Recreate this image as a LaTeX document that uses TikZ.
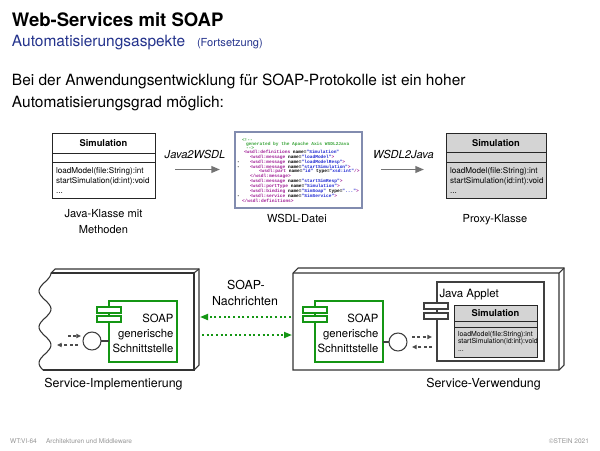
\documentclass[tikz,border=0pt]{standalone}
\usepackage{fontspec}
\setmainfont{TeX Gyre Heros}
\newfontfamily\codefont{Liberation Mono}
\usetikzlibrary{arrows.meta}
\definecolor{slideblue}{RGB}{35,50,140}
\definecolor{compgreen}{RGB}{20,150,20}
\definecolor{arrowgray}{RGB}{115,115,115}
\definecolor{classgray}{RGB}{212,212,212}
\definecolor{footgray}{RGB}{150,150,150}
\definecolor{wsdlframe}{RGB}{130,140,175}
\definecolor{xmltag}{RGB}{160,30,150}
\definecolor{xmlval}{RGB}{30,40,210}
\definecolor{xmlcom}{RGB}{60,165,60}
\newcommand{\fsz}[2]{\fontsize{#1pt}{#2pt}\selectfont}
\newcommand{\cf}{\codefont\bfseries\fontsize{3.4pt}{3.6pt}\selectfont}
\newcommand{\xtg}[1]{\textcolor{xmltag}{#1}}
\newcommand{\xvl}[1]{\textcolor{xmlval}{#1}}
\newcommand{\xcm}[1]{\textcolor{xmlcom}{#1}}
\begin{document}
\begin{tikzpicture}[x=0.75pt,y=-0.75pt,
  every node/.style={inner sep=0pt, outer sep=0pt},
  classline/.style={draw=black!85, line width=0.7pt},
  bigarrow/.style={draw=arrowgray, line width=1.4pt, -{Triangle[length=6.5pt,width=5pt]}},
  dasharrow/.style={draw=black!70, line width=0.8pt, dash pattern=on 2.2pt off 1.8pt, -{Triangle[length=3.5pt,width=3.2pt]}},
  greenarrow/.style={draw=compgreen, line width=1.3pt, dash pattern=on 1.6pt off 1.9pt, -{Triangle[length=6pt,width=4.5pt]}},
  comp/.style={draw=compgreen, line width=1.2pt, fill=white},
  appletline/.style={draw=black!75, line width=0.8pt, fill=white},
  nodeline/.style={draw=black!80, line width=0.8pt},
  lolli/.style={circle, draw=black!75, line width=0.8pt, fill=white, minimum size=13.5pt},
  codeline/.style={anchor=base west},
]
\path[use as bounding box, fill=white] (0,0) rectangle (600,450);

% ---------- header ----------
\node[anchor=base west] (title) at (12,26) {\fsz{13.9}{16}\bfseries Web-Services mit SOAP};
\node[anchor=base west, text=slideblue] (sub) at (12,46) {\fsz{11.6}{14}Automatisierungsaspekte};
\node[anchor=base west, text=slideblue] (fort) at (197,46) {\fsz{8.3}{10}(Fortsetzung)};
\node[anchor=base west] (body1) at (12,85) {\fsz{11.6}{14}Bei der Anwendungsentwicklung für SOAP-Protokolle ist ein hoher};
\node[anchor=base west] (body2) at (12,107) {\fsz{11.6}{14}Automatisierungsgrad möglich:};

% ---------- Java class ----------
\draw[classline, fill=white] (52,133) rectangle (155,198);
\draw[classline] (52,153) -- (155,153) (52,162) -- (155,162);
\node (jname) at (103.5,143.5) {\fsz{7}{8}\bfseries Simulation};
\node[anchor=base west] (jm1) at (56,173) {\fsz{6.1}{7}loadModel(file:String):int};
\node[anchor=base west] (jm2) at (56,183.5) {\fsz{6.1}{7}startSimulation(id:int):void};
\node[anchor=base west] (jm3) at (56,193) {\fsz{6.1}{7}...};
\node[anchor=base] (jcap1) at (103.5,217) {\fsz{8.3}{10}Java-Klasse mit};
\node[anchor=base] (jcap2) at (103.5,233) {\fsz{8.3}{10}Methoden};

% ---------- arrows top ----------
\coordinate (a1s) at (175,169.5); \coordinate (a1e) at (220,169.5);
\draw[bigarrow] (a1s) -- (a1e);
\node[anchor=base] (j2w) at (195,158) {\fsz{8.3}{10}\itshape Java2WSDL};
\coordinate (a2s) at (381,169.5); \coordinate (a2e) at (424,169.5);
\draw[bigarrow] (a2s) -- (a2e);
\node[anchor=base] (w2j) at (403.5,158) {\fsz{8.3}{10}\itshape WSDL2Java};

% ---------- WSDL file ----------
\node[draw=wsdlframe, line width=0.8pt, fill=white, minimum width=95.25pt, minimum height=57pt] (wsdl) at (298.5,170) {};
\node[codeline] (c1) at (242,141) {\cf\xcm{<!-{}-}};
\node[codeline] (c2) at (246,145) {\cf\xcm{generated by the Apache Axis WSDL2Java}};
\node[codeline] (c3) at (246,149) {\cf\xcm{-{}->}};
\node[codeline] (c4) at (244,153.5) {\cf\xtg{<wsdl:definitions} name=\xvl{"Simulation"}};
\node[codeline] (c5) at (250,158.35) {\cf\xtg{<wsdl:message} name=\xvl{"loadModel"}\xtg{>}};
\node[codeline] (c6) at (250,163.2) {\cf\xtg{<wsdl:message} name=\xvl{"loadModelResp"}\xtg{>}};
\node[codeline] (c7) at (250,168.05) {\cf\xtg{<wsdl:message} name=\xvl{"startSimulation"}\xtg{>}};
\node[codeline] (c8) at (259,172.9) {\cf\xtg{<wsdl:part} name=\xvl{"id"} type=\xvl{"xsd:int"}\xtg{/>}};
\node[codeline] (c9) at (250,177.75) {\cf\xtg{</wsdl:message>}};
\node[codeline] (c10) at (250,182.6) {\cf\xtg{<wsdl:message} name=\xvl{"startSimResp"}\xtg{>}};
\node[codeline] (c11) at (250,187.45) {\cf\xtg{<wsdl:portType} name=\xvl{"Simulation"}\xtg{>}};
\node[codeline] (c12) at (250,192.3) {\cf\xtg{<wsdl:binding} name=\xvl{"SimSoap"} type=\xvl{"..."}\xtg{>}};
\node[codeline] (c13) at (250,197.15) {\cf\xtg{<wsdl:service} name=\xvl{"SimService"}\xtg{>}};
\node[codeline] (c14) at (242,202) {\cf\xtg{</wsdl:definitions>}};
\node[codeline] (m6) at (237,163.2) {\cf -};
\node[codeline] (m7) at (237,168.05) {\cf -};
\node[codeline] (m13) at (237,197.15) {\cf -};
\node[anchor=base] (wcap) at (297,222) {\fsz{8.3}{10}WSDL-Datei};

% ---------- Proxy class ----------
\filldraw[classline, fill=classgray] (446,133) rectangle (546,198);
\draw[classline] (446,152) -- (546,152) (446,162) -- (546,162);
\node (pname) at (496,143) {\fsz{7}{8}\bfseries Simulation};
\node[anchor=base west] (pm1) at (450,173) {\fsz{6.1}{7}loadModel(file:String):int};
\node[anchor=base west] (pm2) at (450,183.5) {\fsz{6.1}{7}startSimulation(id:int):void};
\node[anchor=base west] (pm3) at (450,193) {\fsz{6.1}{7}...};
\node[anchor=base] (pcap) at (495,222) {\fsz{8.3}{10}Proxy-Klasse};

% ---------- left deployment node ----------
\draw[nodeline] (51,273) -- (55,269) -- (199,269) -- (199,365) -- (194,370);
\draw[nodeline] (194,273) -- (199,269);
\draw[nodeline] (51,273) -- (194,273) -- (194,370) -- (42.9,370);
\draw[nodeline] plot[smooth, samples=50, domain=273:370] ({45+6*cos((\x-273)*10)},\x);

\node[comp, rectangle, minimum width=51pt, minimum height=45.75pt] (compL) at (143,331.5) {};
\draw[comp] (97,307) rectangle (121,313);
\draw[comp] (97,316) rectangle (121,322);
\node[anchor=base east] (tl1) at (173.5,322) {\fsz{8.5}{10}SOAP};
\node[anchor=base east] (tl2) at (173.5,337.5) {\fsz{8.5}{10}generische};
\node[anchor=base east] (tl3) at (173.5,352) {\fsz{8.5}{10}Schnittstelle};
\node[lolli] (lolL) at (92,341) {};
\draw[draw=black!75, line width=0.8pt] (lolL.east) -- (lolL.east -| compL.west);
\coordinate (dl1s) at (68,336); \coordinate (dl1e) at (81,336);
\draw[dasharrow] (dl1s) -- (dl1e);
\coordinate (dl2s) at (78,345); \coordinate (dl2e) at (57,345);
\draw[dasharrow] (dl2s) -- (dl2e);
\node[anchor=base] (implcap) at (113.5,387.5) {\fsz{9.3}{11}Service-Implementierung};

% ---------- messages ----------
\node[anchor=base] (msg1) at (246,289.5) {\fsz{9.3}{11}SOAP-};
\node[anchor=base] (msg2) at (245,305.5) {\fsz{9.3}{11}Nachrichten};
\coordinate (g1s) at (291,317); \coordinate (g1e) at (200,317);
\draw[greenarrow] (g1s) -- (g1e);
\coordinate (g2s) at (202,335); \coordinate (g2e) at (292,335);
\draw[greenarrow] (g2s) -- (g2e);

% ---------- right deployment node ----------
\draw[nodeline, fill=white] (293,273) -- (298,268) -- (564,268) -- (564,365) -- (559,370) -- (293,370) -- cycle;
\draw[nodeline] (293,273) -- (559,273) -- (559,370) (559,273) -- (564,268);

\node[comp, rectangle, minimum width=51pt, minimum height=45.75pt] (compR) at (349,331.5) {};
\draw[comp] (303,307) rectangle (327,313);
\draw[comp] (303,316) rectangle (327,322);
\node[anchor=base east] (tr1) at (378.5,322) {\fsz{8.5}{10}SOAP};
\node[anchor=base east] (tr2) at (378.5,337.5) {\fsz{8.5}{10}generische};
\node[anchor=base east] (tr3) at (378.5,352) {\fsz{8.5}{10}Schnittstelle};
\node[lolli] (lolR) at (398,342) {};
\draw[draw=black!75, line width=0.8pt] (lolR.west) -- (lolR.west -| compR.east);
\coordinate (dr1s) at (412,337); \coordinate (dr1e) at (432,337);
\draw[dasharrow] (dr1s) -- (dr1e);
\coordinate (dr2s) at (432,347); \coordinate (dr2e) at (412,347);
\draw[dasharrow] (dr2s) -- (dr2e);

% Java applet component
\node[appletline, rectangle, minimum width=80.25pt, minimum height=59.25pt] (applet) at (490.5,321.5) {};
\draw[appletline] (424,303) rectangle (448,309);
\draw[appletline] (424,313) rectangle (448,319);
\node[anchor=base west] (aplab) at (439.5,297) {\fsz{8.6}{10}Java Applet};
\filldraw[classline, fill=classgray] (454,305) rectangle (537,357);
\draw[classline] (454,321.5) -- (537,321.5) (454,327.5) -- (537,327.5);
\node (aname) at (495.5,313.5) {\fsz{7}{8}\bfseries Simulation};
\node[anchor=base west] (am1) at (458,336) {\fsz{5.2}{6}loadModel(file:String):int};
\node[anchor=base west] (am2) at (458,343.5) {\fsz{5.2}{6}startSimulation(id:int):void};
\node[anchor=base west] (am3) at (458,351) {\fsz{5.2}{6}...};
\node[anchor=base] (usecap) at (483.5,387.5) {\fsz{9.3}{11}Service-Verwendung};

% ---------- footer ----------
\node[anchor=base west, text=footgray] (f1) at (10,443) {\fsz{4.9}{6}WT:VI-64};
\node[anchor=base west, text=footgray] (f2) at (46,443) {\fsz{4.9}{6}Architekturen und Middleware};
\node[anchor=base east, text=footgray] (f3) at (589,443) {\fsz{4.9}{6}©STEIN 2021};
\end{tikzpicture}
\end{document}
